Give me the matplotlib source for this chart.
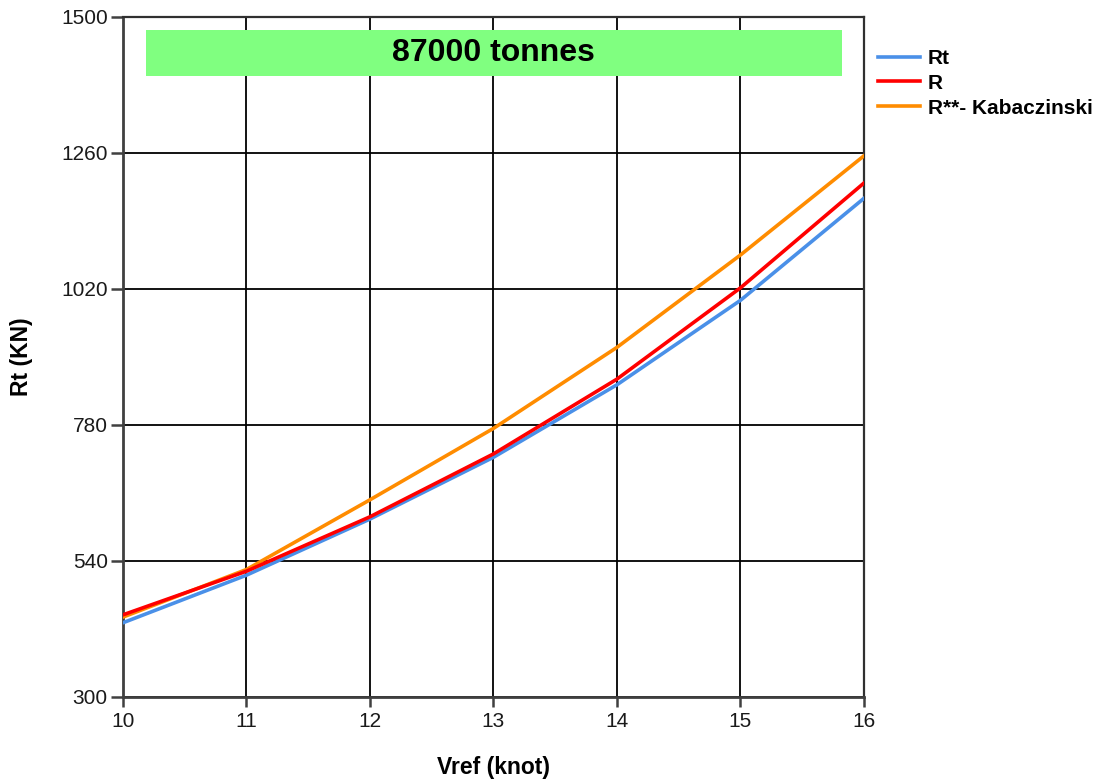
import matplotlib
matplotlib.use('Agg')
import matplotlib.pyplot as plt
from matplotlib.patches import Rectangle

plt.rcParams['font.family'] = ['Liberation Sans', 'DejaVu Sans']

# speed (knot) vs resistance (kN), 87000 t ship
vref = [10, 11, 12, 13, 14, 15, 16]
rt = [431, 515, 614, 723, 851, 1000, 1180]
r = [445, 522, 618, 729, 861, 1022, 1207]
r_kab = [441, 525, 648, 774, 917, 1080, 1255]

x_ticks = [10, 11, 12, 13, 14, 15, 16]
y_ticks = [300, 540, 780, 1020, 1260, 1500]
title_text = '87000 tonnes'

fig = plt.figure(figsize=(11.02, 7.82), dpi=100)
ax = fig.add_axes([0.1116, 0.1087, 0.6724, 0.8696])

ax.plot(vref, rt, color='#4a90e8', lw=2.6, label='Rt', zorder=3)
ax.plot(vref, r, color='#ff0000', lw=2.6, label='R', zorder=4)
ax.plot(vref, r_kab, color='#ff8c00', lw=2.6, label='R**- Kabaczinski', zorder=3)

ax.set_xlim(10, 16)
ax.set_ylim(300, 1500)
ax.set_xticks(x_ticks)
ax.set_yticks(y_ticks)
ax.grid(True, color='black', lw=1.3)
ax.set_axisbelow(True)

for side in ['left', 'bottom']:
    ax.spines[side].set_color('#404040')
    ax.spines[side].set_linewidth(2)
for side in ['right', 'top']:
    ax.spines[side].set_color('#303030')
    ax.spines[side].set_linewidth(1.6)

ax.tick_params(axis='y', length=9, width=1.8, color='#404040',
               labelsize=15, labelcolor='#1a1a1a', pad=2)
ax.tick_params(axis='x', length=7, width=1.8, color='#404040',
               labelsize=15, labelcolor='#1a1a1a', pad=4)

ax.set_xlabel('Vref (knot)', fontsize=16.5, fontweight='bold', labelpad=18)
ax.set_ylabel('Rt (KN)', fontsize=16.5, fontweight='bold', labelpad=20)

# green banner with the displacement
ax.add_patch(Rectangle((10.186, 1396), 15.82 - 10.186, 1477 - 1396,
                       facecolor='#80ff80', edgecolor='none', zorder=5))
ax.text((10.186 + 15.82) / 2, (1396 + 1477) / 2, title_text,
        fontsize=23, fontweight='bold', ha='center', va='center', zorder=6)

leg = ax.legend(loc='upper left', bbox_to_anchor=(1.019, 0.953), frameon=False,
                prop={'weight': 'bold', 'size': 15}, handlelength=2.0,
                handletextpad=0.4, labelspacing=0.28, borderaxespad=0,
                borderpad=0)

fig.savefig('out.png', dpi=100)
